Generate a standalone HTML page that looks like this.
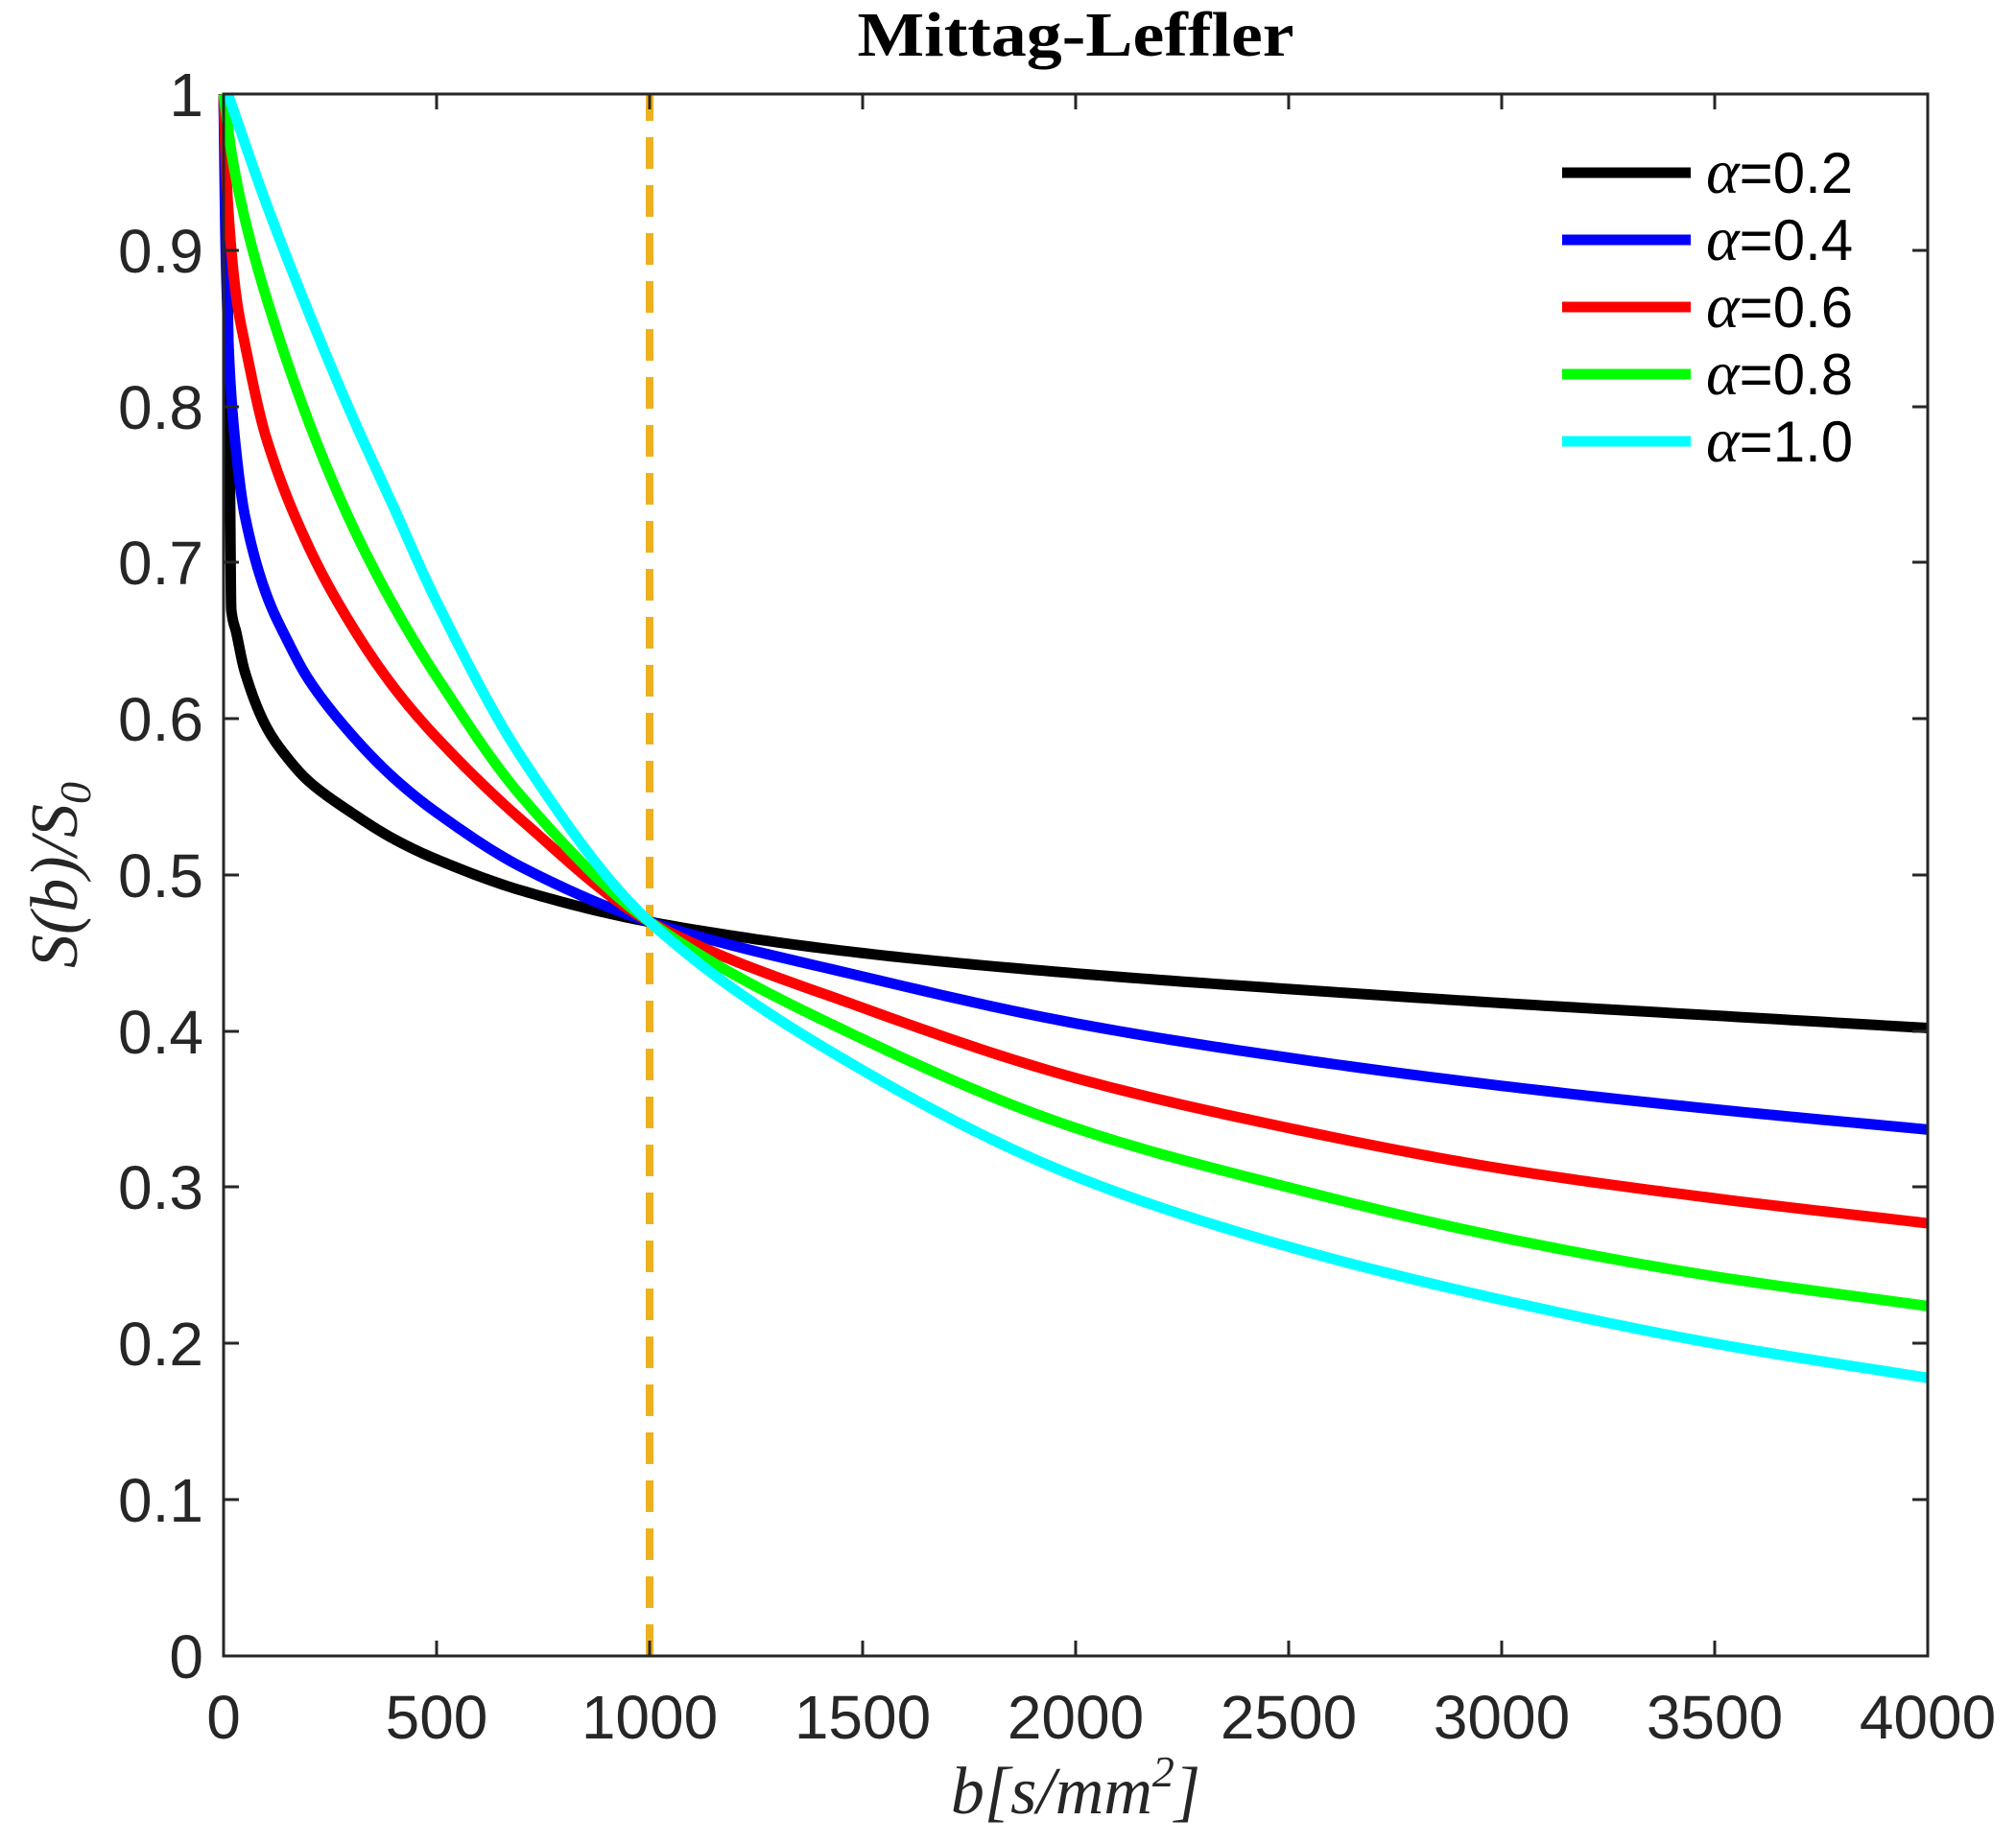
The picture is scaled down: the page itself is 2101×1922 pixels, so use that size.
<!DOCTYPE html>
<html><head><style>body{margin:0;background:#fff}svg{display:block}</style></head><body>
<svg id="s" width="2101" height="1922" viewBox="0 0 2101 1922" xmlns="http://www.w3.org/2000/svg">
<rect width="2101" height="1922" fill="#fff"/>
<text x="1121" y="58" font-family="Liberation Serif, serif" font-weight="bold" font-size="66" text-anchor="middle" fill="#000" textLength="455" lengthAdjust="spacingAndGlyphs">Mittag-Leffler</text>
<g transform="translate(233,1726) scale(0.444,-1628)" fill="none" stroke-linejoin="round" stroke-linecap="butt">
<polyline vector-effect="non-scaling-stroke" stroke="#EDB120" stroke-width="8" stroke-dasharray="33 17" points="1000,0 1000,1"/>
<polyline class="c" vector-effect="non-scaling-stroke" stroke="#000" stroke-width="11" points="0,1 8,0.9 15,0.75 18,0.67 30,0.655 50,0.63 100,0.595 150,0.575 200,0.56 300,0.54 400,0.523 500,0.51 700,0.49 1000,0.47 1500,0.45 2000,0.437 2500,0.427 3000,0.418 3500,0.41 4000,0.402"/>
<polyline class="c" vector-effect="non-scaling-stroke" stroke="#0000ff" stroke-width="11" points="0,1 5,0.9 15,0.82 30,0.77 50,0.73 100,0.68 150,0.65 200,0.625 300,0.59 400,0.562 500,0.54 700,0.505 1000,0.47 1500,0.435 2000,0.405 2500,0.383 3000,0.365 3500,0.35 4000,0.337"/>
<polyline class="c" vector-effect="non-scaling-stroke" stroke="#ff0000" stroke-width="11" points="0,1 10,0.93 30,0.87 50,0.84 100,0.78 200,0.71 300,0.66 400,0.62 500,0.588 700,0.535 1000,0.47 1500,0.415 2000,0.37 2500,0.338 3000,0.312 3500,0.293 4000,0.277"/>
<polyline class="c" vector-effect="non-scaling-stroke" stroke="#00ff00" stroke-width="11" points="0,1 20,0.96 50,0.92 100,0.87 200,0.79 300,0.725 400,0.672 500,0.627 700,0.55 1000,0.47 1500,0.395 2000,0.338 2500,0.3 3000,0.268 3500,0.243 4000,0.224"/>
<polyline class="c" vector-effect="non-scaling-stroke" stroke="#00ffff" stroke-width="11" points="10,1 100,0.93 200,0.86 300,0.795 400,0.735 500,0.675 700,0.575 1000,0.47 1500,0.375 2000,0.307 2500,0.262 3000,0.228 3500,0.2 4000,0.178"/>
</g>
<rect x="233" y="98" width="1776" height="1628" fill="none" stroke="#262626" stroke-width="3"/>
<g stroke="#262626" stroke-width="3">
<path d="M455,1726v-16M677,1726v-16M899,1726v-16M1121,1726v-16M1343,1726v-16M1565,1726v-16M1787,1726v-16
M455,98v16M677,98v16M899,98v16M1121,98v16M1343,98v16M1565,98v16M1787,98v16
M233,1563h16M233,1400h16M233,1237h16M233,1075h16M233,912h16M233,749h16M233,586h16M233,424h16M233,261h16
M2009,1563h-16M2009,1400h-16M2009,1237h-16M2009,1075h-16M2009,912h-16M2009,749h-16M2009,586h-16M2009,424h-16M2009,261h-16"/>
</g>
<g font-family="Liberation Sans, sans-serif" font-size="64" fill="#262626" text-anchor="end">
<text x="212" y="1749">0</text><text x="212" y="1586">0.1</text><text x="212" y="1423">0.2</text><text x="212" y="1260">0.3</text><text x="212" y="1098">0.4</text><text x="212" y="935">0.5</text><text x="212" y="772">0.6</text><text x="212" y="609">0.7</text><text x="212" y="447">0.8</text><text x="212" y="284">0.9</text><text x="212" y="121">1</text>
</g>
<g font-family="Liberation Sans, sans-serif" font-size="64" fill="#262626" text-anchor="middle">
<text x="233" y="1812">0</text><text x="455" y="1812">500</text><text x="677" y="1812">1000</text><text x="899" y="1812">1500</text><text x="1121" y="1812">2000</text><text x="1343" y="1812">2500</text><text x="1565" y="1812">3000</text><text x="1787" y="1812">3500</text><text x="2009" y="1812">4000</text>
</g>
<text x="1121" y="1890" font-family="Liberation Serif, serif" font-style="italic" font-size="70" text-anchor="middle" fill="#262626">b[s/mm<tspan font-size="46" dy="-28">2</tspan><tspan dy="28">]</tspan></text>
<text transform="translate(80,912) rotate(-90)" font-family="Liberation Serif, serif" font-style="italic" font-size="70" text-anchor="middle" fill="#262626">S(b)/S<tspan font-size="46" dy="14">0</tspan></text>
<g stroke-width="11">
<line x1="1628" y1="180" x2="1762" y2="180" stroke="#000"/>
<line x1="1628" y1="250" x2="1762" y2="250" stroke="#0000ff"/>
<line x1="1628" y1="320" x2="1762" y2="320" stroke="#ff0000"/>
<line x1="1628" y1="390" x2="1762" y2="390" stroke="#00ff00"/>
<line x1="1628" y1="460" x2="1762" y2="460" stroke="#00ffff"/>
</g>
<g font-family="Liberation Sans, sans-serif" font-size="60" fill="#000">
<text x="1778" y="201"><tspan font-family="Liberation Serif, serif" font-style="italic" font-size="66">α</tspan>=0.2</text>
<text x="1778" y="271"><tspan font-family="Liberation Serif, serif" font-style="italic" font-size="66">α</tspan>=0.4</text>
<text x="1778" y="341"><tspan font-family="Liberation Serif, serif" font-style="italic" font-size="66">α</tspan>=0.6</text>
<text x="1778" y="411"><tspan font-family="Liberation Serif, serif" font-style="italic" font-size="66">α</tspan>=0.8</text>
<text x="1778" y="481"><tspan font-family="Liberation Serif, serif" font-style="italic" font-size="66">α</tspan>=1.0</text>
</g>
</svg>
<script>
document.querySelectorAll('polyline.c').forEach(function(pl){
  var p=pl.getAttribute('points').trim().split(/\s+/).map(function(s){var a=s.split(',');return [+a[0],+a[1]];});
  var n=p.length,d=[],m=[];
  for(var i=0;i<n-1;i++)d.push((p[i+1][1]-p[i][1])/(p[i+1][0]-p[i][0]));
  m[0]=d[0];m[n-1]=d[n-2];
  for(i=1;i<n-1;i++){m[i]=(d[i-1]*d[i]<=0)?0:2/(1/d[i-1]+1/d[i]);}
  var out=[];
  for(i=0;i<n-1;i++){
    var x0=p[i][0],x1=p[i+1][0],y0=p[i][1],y1=p[i+1][1],h=x1-x0;
    for(var k=0;k<20;k++){var t=k/20,t2=t*t,t3=t2*t;
      var y=(2*t3-3*t2+1)*y0+(t3-2*t2+t)*h*m[i]+(-2*t3+3*t2)*y1+(t3-t2)*h*m[i+1];
      out.push((x0+t*h).toFixed(2)+','+y.toFixed(5));}
  }
  out.push(p[n-1][0]+','+p[n-1][1]);
  pl.setAttribute('points',out.join(' '));
});
</script>
</body></html>
